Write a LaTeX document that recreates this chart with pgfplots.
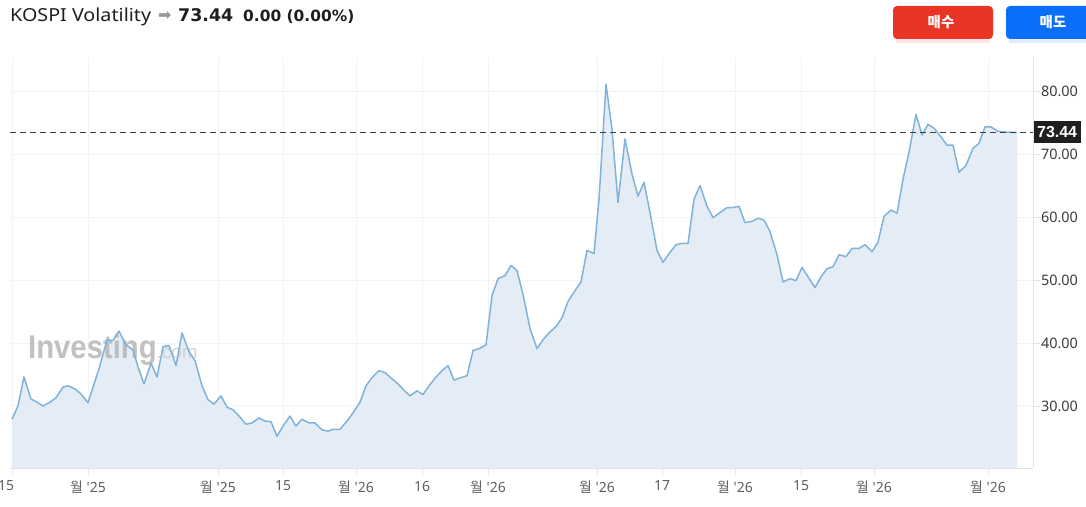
\documentclass[border=0pt]{standalone}
\usepackage{pgfplots}
\pgfplotsset{compat=1.18}
\usepackage{pgfplotstable}
\usepackage{graphicx}
\usepackage{fontspec}
\setmainfont{Noto Sans}
\newfontfamily\kr{Noto Sans CJK KR}
\newfontfamily\djv{DejaVu Sans}
\newfontfamily\lib{Liberation Sans}
\definecolor{linecol}{RGB}{128,178,218}
\definecolor{areacol}{RGB}{228,237,245}
\definecolor{gridcol}{RGB}{243,243,245}
\definecolor{axcol}{RGB}{226,227,231}
\definecolor{btnred}{RGB}{233,52,38}
\definecolor{btnblue}{RGB}{10,110,250}
\definecolor{txt}{RGB}{30,30,30}
\definecolor{ylab}{RGB}{60,60,60}
\definecolor{xlab}{RGB}{95,95,95}
\definecolor{wm}{RGB}{182,182,182}

\pgfplotstableread{
x y
12 27.9
18 30.0
24 34.6
31 31.1
37 30.6
43 30.0
50 30.6
56 31.3
63 33.0
68 33.2
75 32.7
81 31.9
88 30.5
93 33.0
99 35.9
107 40.5
113 40.4
119 41.9
126 39.7
133 38.9
138 36.2
144 33.5
151 36.8
157 34.6
163 39.4
169 39.6
176 36.4
182 41.6
189 38.6
195 37.2
202 33.2
208 31.0
214 30.3
221 31.6
227 29.8
233 29.4
239 28.4
246 27.1
252 27.3
259 28.1
265 27.6
271 27.5
277 25.2
283 26.8
290 28.4
296 26.8
302 27.9
309 27.3
315 27.3
322 26.2
328 26.0
333 26.3
340 26.3
347 27.6
353 28.9
360 30.6
366 33.2
372 34.5
379 35.6
385 35.3
392 34.3
398 33.5
404 32.5
410 31.6
417 32.4
423 31.8
429 33.2
436 34.6
442 35.6
448 36.4
454 34.1
461 34.5
467 34.8
473 38.8
479 39.1
486 39.7
492 47.5
498 50.2
505 50.7
511 52.3
517 51.5
523 47.7
530 42.3
537 39.1
543 40.5
549 41.6
556 42.6
562 44.0
568 46.6
575 48.3
581 49.7
587 54.7
594 54.2
599 62.8
606 81.1
612 73.9
618 62.3
625 72.4
632 66.8
638 63.3
644 65.5
650 60.7
657 54.7
663 52.8
670 54.4
676 55.6
682 55.8
688 55.8
694 62.8
700 65.0
707 61.7
713 59.9
720 60.7
727 61.5
733 61.5
739 61.7
745 59.1
752 59.3
758 59.8
764 59.5
770 57.7
777 54.0
783 49.7
790 50.2
796 49.9
802 52.0
808 50.5
815 48.8
821 50.5
827 51.8
833 52.1
839 54.0
846 53.7
852 55.0
859 55.0
865 55.6
872 54.5
878 56.0
884 60.1
891 61.1
897 60.6
903 66.0
909 70.3
916 76.3
922 73.0
928 74.7
934 74.1
941 72.7
947 71.4
953 71.4
959 67.1
966 68.2
973 70.9
979 71.7
985 74.3
991 74.3
998 73.6
1004 73.5
1010 73.44
1017 73.44
}\kospi

\begin{document}
\begin{tikzpicture}[x=1bp,y=1bp]
\path[use as bounding box] (0,0) rectangle (1086,507);
% header
\node[anchor=base west, inner sep=0, text=txt, font=\fontsize{18}{20}\selectfont] (t1) at (10,485.5) {\scalebox{1.1}[1]{KOSPI Volatility}};
\node[anchor=base west, inner sep=0, text=black!40, font=\djv\fontsize{16}{16}\selectfont] (t2) at (158,486) {➡};
\node[anchor=base west, inner sep=0, text=txt, font=\djv\bfseries\fontsize{17.5}{20}\selectfont] (t3) at (178,485.5) {73.44};
\node[anchor=base west, inner sep=0, text=txt, font=\djv\bfseries\fontsize{15.5}{18}\selectfont] (t4) at (243,485.5) {0.00 (0.00\%)};
% buttons
\fill[btnred!12] (896,464) rectangle (990,470);
\fill[btnred, rounded corners=4bp] (893,468) rectangle (993,501);
\node[text=white, font=\kr\bfseries\fontsize{14.5}{14.5}\selectfont] at (941,484.5) {매수};
\fill[btnblue!12] (1009,464) rectangle (1100,470);
\fill[btnblue, rounded corners=4bp] (1006,468) rectangle (1110,501);
\node[text=white, font=\kr\bfseries\fontsize{14.5}{14.5}\selectfont] at (1053,484.5) {매도};

\begin{axis}[
  at={(10bp,39bp)}, anchor=south west, scale only axis,
  width=1023bp, height=411bp,
  xmin=10, xmax=1033, ymin=20.15, ymax=85.4,
  axis x line=bottom, axis y line=right,
  axis line style={-, draw=axcol, line width=0.8bp},
  xtick={12,88,218,283,356,422,488,597,662,735,801,874,988},
  xticklabels={\hspace*{-12bp}15,{\kr 월} \textquotesingle25,{\kr 월} \textquotesingle25,15,{\kr 월} \textquotesingle26,16,{\kr 월} \textquotesingle26,{\kr 월} \textquotesingle26,17,{\kr 월} \textquotesingle26,15,{\kr 월} \textquotesingle26,{\kr 월} \textquotesingle26},
  ytick={30,40,50,60,70,80},
  yticklabel style={/pgf/number format/fixed, /pgf/number format/fixed zerofill, /pgf/number format/precision=2, /pgf/number format/assume math mode=true},
  yticklabel style={font=\fontsize{14.5}{16}\selectfont, text=ylab, xshift=-2.5bp},
  xticklabel style={font=\fontsize{14}{16}\selectfont, text=xlab, yshift=-2.5bp},
  grid=major, major grid style={draw=gridcol, line width=0.9bp},
  tick align=outside, major tick length=7bp,
  tick style={draw=axcol, line width=0.8bp},
  clip=false,
]
\addplot[draw=none, fill=areacol] table[x=x,y=y]{\kospi} \closedcycle;
\node[anchor=base west, inner sep=0, text=wm, opacity=0.85] at (axis cs:28,37.6)
  {\scalebox{0.89}[1]{\lib\bfseries\fontsize{33}{33}\selectfont Investing}\lib\fontsize{19}{19}\selectfont\color{wm!70}.com};
\addplot[draw=linecol, line width=1.5bp, line join=round] table[x=x,y=y]{\kospi};
\addplot[draw=black!75, dash pattern=on 6bp off 4bp, line width=0.9bp] coordinates {(10,73.44) (1033,73.44)};
\node[fill=black!88, text=white, font=\lib\bfseries\fontsize{16}{16}\selectfont, anchor=west, inner xsep=3.5bp, inner ysep=0bp, minimum height=22bp] at (axis cs:1033.5,73.44) {73.44};
\end{axis}
\end{tikzpicture}
\end{document}
